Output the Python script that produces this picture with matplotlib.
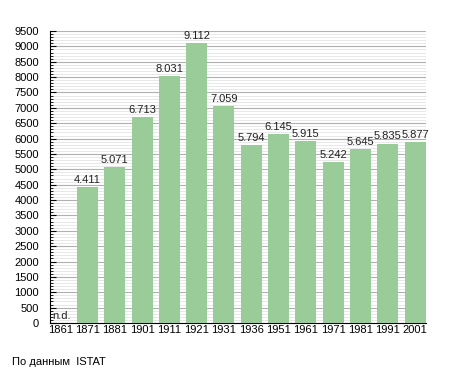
import matplotlib
matplotlib.use("Agg")
import matplotlib.pyplot as plt
import numpy as np
from matplotlib.ticker import MultipleLocator

years = ["1861", "1871", "1881", "1901", "1911", "1921", "1931", "1936",
         "1951", "1961", "1971", "1981", "1991", "2001"]
population = [None, 4411, 5071, 6713, 8031, 9112, 7059, 5794,
              6145, 5915, 5242, 5645, 5835, 5877]
labels = [None, "4.411", "5.071", "6.713", "8.031", "9.112", "7.059", "5.794",
          "6.145", "5.915", "5.242", "5.645", "5.835", "5.877"]

plt.rcParams['font.family'] = ['Liberation Sans', 'DejaVu Sans']
fig = plt.figure(figsize=(4.55, 3.73), dpi=100)
ax = fig.add_axes([50/455, 1-323/373, 376/455, 292/373])

x = np.arange(len(years))
vals = [v if v is not None else 0 for v in population]
ax.bar(x, vals, width=0.77, color='#99cc99', zorder=3)
for xi, v, l in zip(x, population, labels):
    if v is not None:
        ax.text(xi, v + 70, l, ha='center', va='bottom', fontsize=8, color='#222222', zorder=4)
ax.text(-0.3, 60, "n.d.", ha='left', va='bottom', fontsize=8, color='#222222')

ax.set_xlim(-0.37, 13.4)
ax.set_ylim(0, 9500)
ax.yaxis.set_major_locator(MultipleLocator(500))
ax.yaxis.set_minor_locator(MultipleLocator(100))
ax.grid(axis='y', which='major', color='#b0b0b0', linewidth=0.8, zorder=0)
ax.grid(axis='y', which='minor', color='#e4e4e4', linewidth=0.6, zorder=0)
ax.set_xticks(x)
ax.set_xticklabels(years)
ax.tick_params(axis='x', length=0, labelsize=8, pad=1.5)
ax.tick_params(axis='y', which='major', length=4, labelsize=8, direction='in', pad=8)
ax.tick_params(axis='y', which='minor', length=2, direction='in')
for s in ['top', 'right']:
    ax.spines[s].set_visible(False)
ax.spines['left'].set_color('black')
ax.spines['bottom'].set_color('black')

fig.text(12/455, 1-362/373, "По данным  ISTAT", fontsize=8, va='center', ha='left')
fig.savefig("out.png", dpi=100)
